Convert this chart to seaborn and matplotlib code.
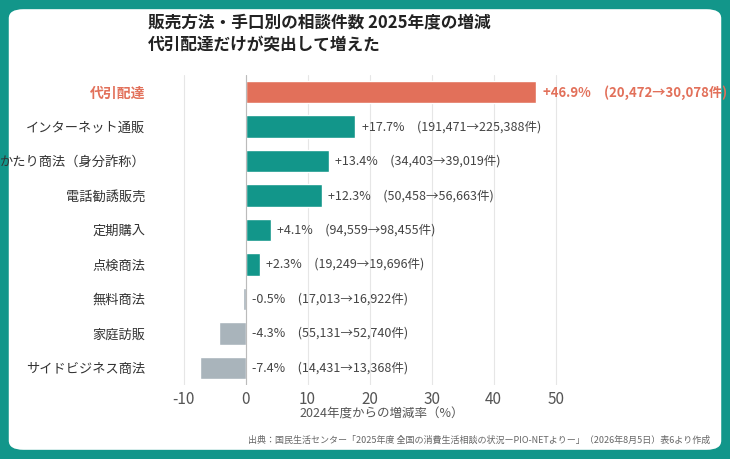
import matplotlib
matplotlib.use("Agg")
import matplotlib.pyplot as plt
import seaborn as sns
import pandas as pd
from matplotlib.patches import FancyBboxPatch

categories = ["代引配達", "インターネット通販", "かたり商法（身分詐称）", "電話勧誘販売", "定期購入",
              "点検商法", "無料商法", "家庭訪販", "サイドビジネス商法"]
changes = [46.9, 17.7, 13.4, 12.3, 4.1, 2.3, -0.5, -4.3, -7.4]
prev = ["20,472", "191,471", "34,403", "50,458", "94,559", "19,249", "17,013", "55,131", "14,431"]
curr = ["30,078", "225,388", "39,019", "56,663", "98,455", "19,696", "16,922", "52,740", "13,368"]
xticks = [-10, 0, 10, 20, 30, 40, 50]

sns.set_theme(style="white")
plt.rcParams['font.family'] = ['Noto Sans CJK JP', 'DejaVu Sans']

TEAL = "#12968a"; RED = "#e2705a"; GREY = "#a9b4bb"
colors = [RED if i == 0 else (TEAL if v >= 0 else GREY) for i, v in enumerate(changes)]

fig = plt.figure(figsize=(7.3, 4.59), dpi=100)
fig.patch.set_facecolor(TEAL)
panel = FancyBboxPatch((0.012, 0.02), 0.976, 0.96, boxstyle="round,pad=0,rounding_size=0.02",
                       transform=fig.transFigure, facecolor="white", edgecolor="none", zorder=-10)
fig.patches.append(panel)

ax = fig.add_axes([165/730, 1-385/459, (599-165)/730, (385-75)/459])
ax.set_zorder(1)
ax.set_facecolor("none")
df = pd.DataFrame({"cat": categories, "val": changes})
sns.barplot(data=df, x="val", y="cat", hue="cat", palette=colors, legend=False,
            width=0.65, ax=ax, saturation=1, zorder=3)
ax.set_xlim(-13, 57)
ax.set_xticks(xticks)
ax.set_xticklabels([str(t) for t in xticks], fontsize=11, color="#555")
ax.grid(axis="x", color="#e6e6e6", lw=0.8, zorder=0)
ax.axvline(0, color="#bbbbbb", lw=0.8, zorder=4)
for s in ax.spines.values():
    s.set_visible(False)
ax.set_ylabel("")
ax.set_xlabel("2024年度からの増減率（%）", fontsize=9, color="#555", labelpad=0)
ax.tick_params(axis="y", length=0, pad=14)
ax.tick_params(axis="x", length=0, pad=4)
for i, lab in enumerate(ax.get_yticklabels()):
    if i == 0:
        lab.set_color(RED); lab.set_fontweight("bold"); lab.set_fontsize(10)
    else:
        lab.set_color("#333"); lab.set_fontsize(9.5)

for i, v in enumerate(changes):
    txt = f"{v:+.1f}%　({prev[i]}→{curr[i]}件)"
    x = max(v, 0) + 1
    if i == 0:
        ax.text(x, i, txt, va="center", ha="left", fontsize=9.5, color=RED, fontweight="bold")
    else:
        ax.text(x, i, txt, va="center", ha="left", fontsize=9, color="#444")

fig.text(148/730, 1-22/459, "販売方法・手口別の相談件数 2025年度の増減", fontsize=12,
         fontweight="bold", color="#222", va="center")
fig.text(148/730, 1-44/459, "代引配達だけが突出して増えた", fontsize=12,
         fontweight="bold", color="#222", va="center")
fig.text(710/730, 1-440/459, "出典：国民生活センター「2025年度 全国の消費生活相談の状況ーPIO-NETよりー」（2026年8月5日）表6より作成",
         fontsize=6.5, color="#666", ha="right", va="center")

fig.savefig("out.png", dpi=100, facecolor=fig.get_facecolor())
